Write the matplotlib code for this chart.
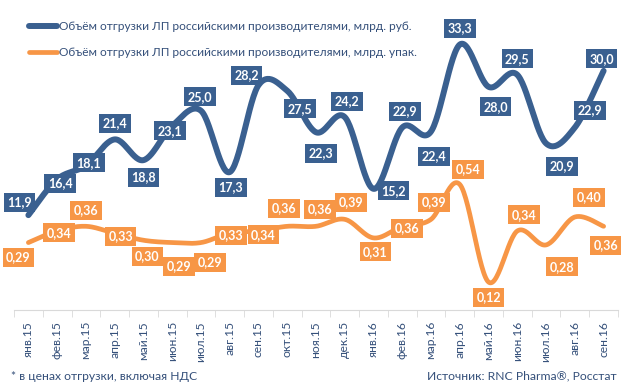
import numpy as np
import matplotlib
matplotlib.use('Agg')
import matplotlib.pyplot as plt

months = ['янв.15', 'фев.15', 'мар.15', 'апр.15', 'май.15', 'июн.15', 'июл.15',
          'авг.15', 'сен.15', 'окт.15', 'ноя.15', 'дек.15', 'янв.16', 'фев.16',
          'мар.16', 'апр.16', 'май.16', 'июн.16', 'июл.16', 'авг.16', 'сен.16']
rub = [11.9, 16.4, 18.1, 21.4, 18.8, 23.1, 25.0, 17.3, 28.2, 27.5, 22.3,
       24.2, 15.2, 22.9, 22.4, 33.3, 28.0, 29.5, 20.9, 22.9, 30.0]
upak = [0.29, 0.34, 0.36, 0.33, 0.30, 0.29, 0.29, 0.33, 0.34, 0.36, 0.36,
        0.39, 0.31, 0.36, 0.39, 0.54, 0.12, 0.34, 0.28, 0.40, 0.36]

# label offsets in pixels (dx, dy), dy up
rub_off = [(-9, 13), (3, -4), (3, 3), (0, 16), (0, -17), (-2, -5), (-1, 14),
           (1, -15), (-12, 10), (13, -18), (5, -21), (2, 16), (20, -2), (3, 16),
           (3, -25), (0, 16), (7, -20), (0, 16), (16, -23), (15, 17), (-2, 12)]
upak_off = [(-10, -15), (2, -2), (0, 16), (6, -3), (4, -16), (7, -24), (9, -20),
            (1, -2), (5, -4), (-3, 18), (4, 17), (6, 17), (2, -14), (5, -2),
            (3, 17), (8, 15), (0, -15), (7, 16), (16, -22), (14, 20), (2, -19)]

BLUE = '#3A6090'
ORANGE = '#F79646'
TXT = '#35507A'
plt.rcParams['font.family'] = ['Lato', 'DejaVu Sans']


def smooth(y, n=30):
    # excel-like smoothed line (catmull-rom bezier)
    y = np.asarray(y, float)
    x = np.arange(len(y), dtype=float)
    p = np.column_stack([x, y])
    p = np.vstack([p[0], p, p[-1]])
    xs, ys = [], []
    t = np.linspace(0, 1, n)
    for i in range(1, len(p) - 2):
        p0, p1, p2, p3 = p[i - 1], p[i], p[i + 1], p[i + 2]
        c1 = p1 + (p2 - p0) / 6
        c2 = p2 - (p3 - p1) / 6
        b = ((1 - t) ** 3)[:, None] * p1 + (3 * (1 - t) ** 2 * t)[:, None] * c1 \
            + (3 * (1 - t) * t ** 2)[:, None] * c2 + (t ** 3)[:, None] * p2
        xs.extend(b[:, 0])
        ys.extend(b[:, 1])
    return np.array(xs), np.array(ys)


fig = plt.figure(figsize=(6.22, 3.86), dpi=100)
ax = fig.add_axes([14 / 622, 76 / 386, 604 / 622, 279 / 386])
ax2 = ax.twinx()

x = np.arange(len(months))
sx, sy = smooth(rub)
l1, = ax.plot(sx, sy, color=BLUE, lw=4.3, solid_capstyle='round', zorder=3)
sx2, sy2 = smooth(upak)
l2, = ax2.plot(sx2, sy2, color=ORANGE, lw=3.4, solid_capstyle='round', zorder=3)

ax.set_ylim(0, 35)
ax2.set_ylim(0, 1.2)
ax.set_xlim(-0.5, len(months) - 0.5)

for i, v in enumerate(rub):
    ax.annotate(f'{v:.1f}'.replace('.', ','), (x[i], v), xytext=rub_off[i],
                textcoords='offset pixels', ha='center', va='center',
                color='white', fontsize=9, fontweight='bold', zorder=5,
                bbox=dict(boxstyle='square,pad=0.28', fc=BLUE, ec='none'))
for i, v in enumerate(upak):
    ax2.annotate(f'{v:.2f}'.replace('.', ','), (x[i], v), xytext=upak_off[i],
                 textcoords='offset pixels', ha='center', va='center',
                 color='white', fontsize=9, fontweight='bold', zorder=5,
                 bbox=dict(boxstyle='square,pad=0.28', fc=ORANGE, ec='none'))

for a in (ax, ax2):
    for s in ['top', 'right', 'left']:
        a.spines[s].set_visible(False)
    a.set_yticks([])
ax.spines['bottom'].set_color('#D9D9D9')
ax2.spines['bottom'].set_visible(False)

ax.set_xticks(x)
ax.set_xticklabels(months, rotation=90, fontsize=8.7, color=TXT)
ax.tick_params(axis='x', which='major', length=0, pad=8)
ax.set_xticks(np.arange(-0.5, len(months)), minor=True)
ax.tick_params(axis='x', which='minor', length=5, color='#D9D9D9')

fig.legend([l1, l2],
           ['Объём отгрузки ЛП российскими производителями, млрд. руб.',
            'Объём отгрузки ЛП российскими производителями, млрд. упак.'],
           loc='upper left', bbox_to_anchor=(18 / 622, 1 - 10 / 386),
           frameon=False, fontsize=8.6, labelcolor=TXT, handlelength=2.4,
           handletextpad=0.1, labelspacing=1.25)

fig.text(11 / 622, 10 / 386, '* в ценах отгрузки, включая НДС', fontsize=8.7,
         color=TXT, ha='left', va='center')
fig.text(617 / 622, 10 / 386, 'Источник: RNC Pharma®, Росстат', fontsize=8.7,
         color=TXT, ha='right', va='center')

fig.savefig('out.png', dpi=100)
